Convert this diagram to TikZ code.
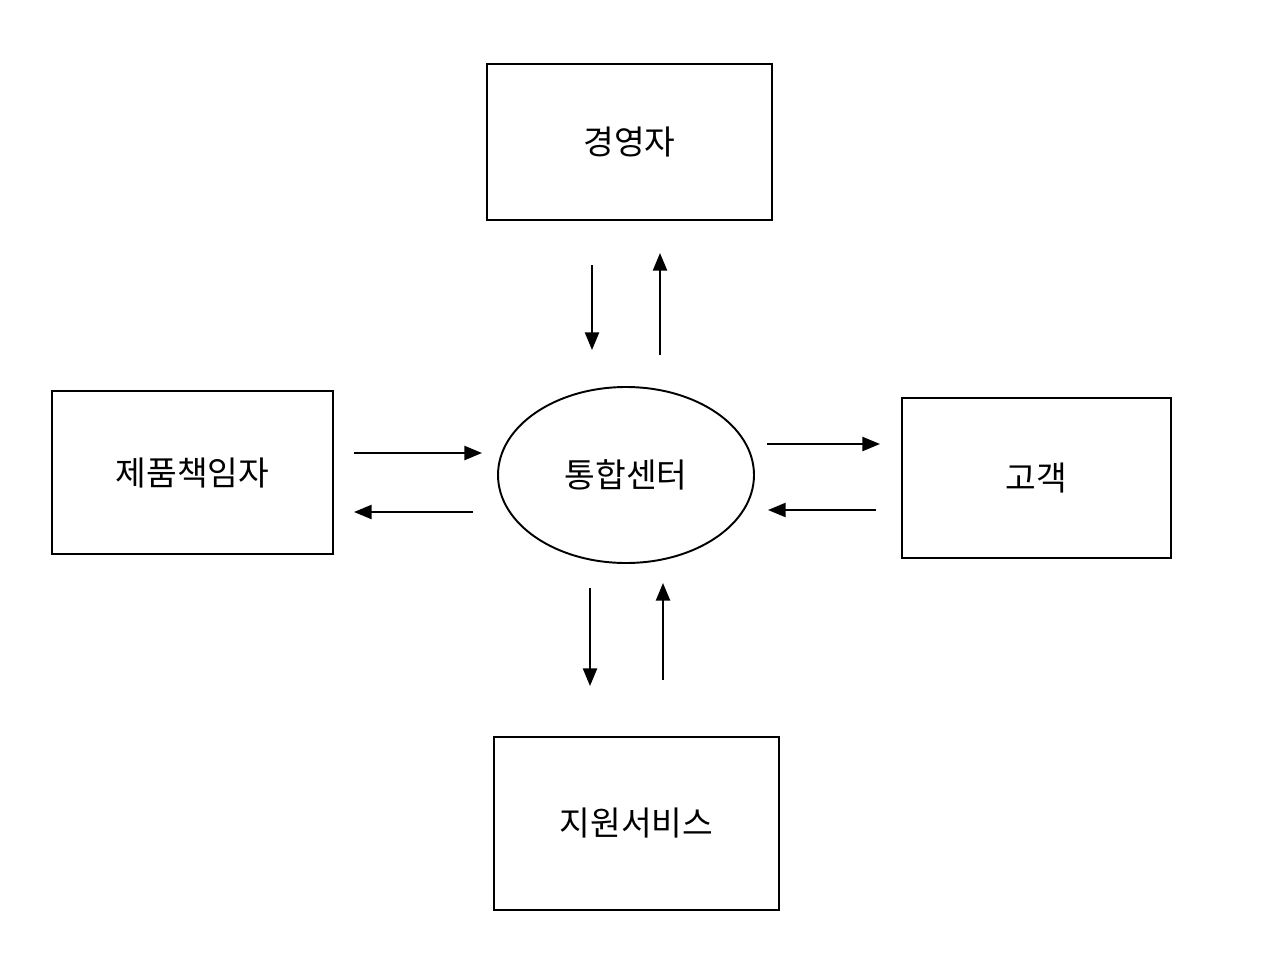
\documentclass[tikz,border=0pt]{standalone}
\usepackage{fontspec}
\newfontfamily\kr{Noto Sans CJK KR}
\usetikzlibrary{arrows.meta,shapes.geometric}
\begin{document}
\begin{tikzpicture}[x=0.02cm,y=-0.02cm,
  box/.style={draw,line width=1.1pt,inner sep=0pt,font=\kr\fontsize{19}{22}\selectfont},
  flow/.style={line width=1.1pt,-{Triangle[length=10pt,width=8pt]}}]
\useasboundingbox[fill=white] (0,0) rectangle (1280,960);
\node[box,minimum width=285*0.02cm,minimum height=156*0.02cm] (ceo) at (629.5,142) {경영자};
\node[box,minimum width=281*0.02cm,minimum height=163*0.02cm] (pm) at (192.5,472.5) {제품책임자};
\node[box,minimum width=269*0.02cm,minimum height=160*0.02cm] (cust) at (1036.5,478) {고객};
\node[box,minimum width=285*0.02cm,minimum height=173*0.02cm] (sup) at (636.5,823.5) {지원서비스};
\node[box,ellipse,minimum width=256*0.02cm,minimum height=176*0.02cm] (hub) at (626,475) {통합센터};
% top
\coordinate (t1s) at (592,265); \coordinate (t1e) at (592,350);
\coordinate (t2s) at (660,355); \coordinate (t2e) at (660,253);
\draw[flow] (t1s) -- (t1e);
\draw[flow] (t2s) -- (t2e);
% left
\coordinate (l1s) at (354,453); \coordinate (l1e) at (482,453);
\coordinate (l2s) at (473,512); \coordinate (l2e) at (354,512);
\draw[flow] (l1s) -- (l1e);
\draw[flow] (l2s) -- (l2e);
% right
\coordinate (r1s) at (767,444); \coordinate (r1e) at (880,444);
\coordinate (r2s) at (876,510); \coordinate (r2e) at (768,510);
\draw[flow] (r1s) -- (r1e);
\draw[flow] (r2s) -- (r2e);
% bottom
\coordinate (b1s) at (590,588); \coordinate (b1e) at (590,686);
\coordinate (b2s) at (663,680); \coordinate (b2e) at (663,583);
\draw[flow] (b1s) -- (b1e);
\draw[flow] (b2s) -- (b2e);
\end{tikzpicture}
\end{document}
